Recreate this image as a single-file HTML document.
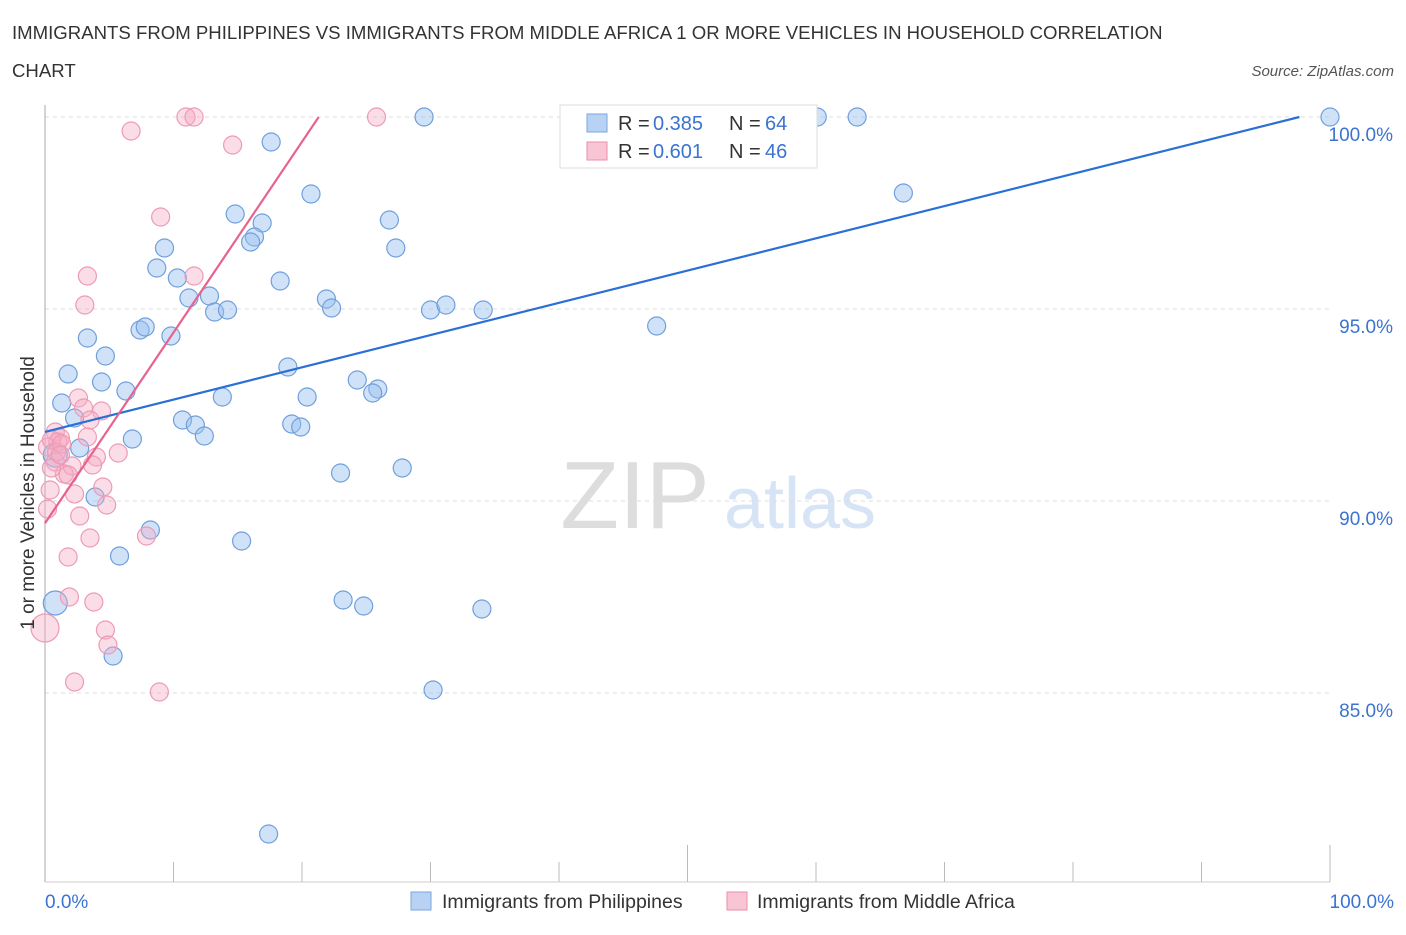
<!DOCTYPE html>
<html><head><meta charset="utf-8"><style>
body{margin:0;background:#fff;font-family:"Liberation Sans",sans-serif}
svg text{font-family:"Liberation Sans",sans-serif}
</style></head><body>
<svg width="1406" height="930" xmlns="http://www.w3.org/2000/svg">
<text x="12" y="39" font-size="18.6" fill="#333">IMMIGRANTS FROM PHILIPPINES VS IMMIGRANTS FROM MIDDLE AFRICA 1 OR MORE VEHICLES IN HOUSEHOLD CORRELATION</text>
<text x="12" y="77" font-size="18.6" fill="#333">CHART</text>
<text x="1394" y="76" font-size="15" fill="#555" font-style="italic" text-anchor="end">Source: ZipAtlas.com</text>
<text x="635" y="528" font-size="96" fill="#ddd" font-family="Liberation Serif" text-anchor="middle">ZIP</text>
<text x="800" y="528" font-size="72" fill="#d6e4f5" text-anchor="middle">atlas</text>
<g id="grid"></g>
<line x1="45" y1="105" x2="45" y2="882" stroke="#aaa"/>
<line x1="45" y1="882" x2="1330" y2="882" stroke="#ccc"/>
<g id="pts"></g>
<g id="lines"></g>
<text x="34" y="493" font-size="19" fill="#333" text-anchor="middle" transform="rotate(-90 34 493)">1 or more Vehicles in Household</text>
<text x="45" y="908" font-size="19" fill="#3b73d1">0.0%</text>
<text x="1394" y="908" font-size="19" fill="#3b73d1" text-anchor="end">100.0%</text>
<g>
<rect x="560" y="105" width="257" height="63" fill="#fff" stroke="#ddd"/>
<rect x="587" y="114" width="20" height="18" fill="#b8d2f3" stroke="#7aa6e0"/>
<rect x="587" y="142" width="20" height="18" fill="#f9c4d4" stroke="#eb8fab"/>
<text x="618" y="130" font-size="20" fill="#333">R =</text>
<text x="653" y="130" font-size="20" fill="#3b73d1">0.385</text>
<text x="729" y="130" font-size="20" fill="#333">N =</text>
<text x="765" y="130" font-size="20" fill="#3b73d1">64</text>
<text x="618" y="158" font-size="20" fill="#333">R =</text>
<text x="653" y="158" font-size="20" fill="#3b73d1">0.601</text>
<text x="729" y="158" font-size="20" fill="#333">N =</text>
<text x="765" y="158" font-size="20" fill="#3b73d1">46</text>
</g>
<g>
<rect x="411" y="892" width="20" height="18" fill="#b8d2f3" stroke="#7aa6e0"/>
<text x="442" y="908" font-size="19.5" fill="#333">Immigrants from Philippines</text></g>
<g>
<rect x="727" y="892" width="20" height="18" fill="#f9c4d4" stroke="#eb8fab"/>
<text x="757" y="908" font-size="19.5" fill="#333">Immigrants from Middle Africa</text></g>
</svg>
<script>
const yTicks=[100,95,90,85];
const yTickLabels=["100.0%","95.0%","90.0%","85.0%"];
const blueX=[29.5,60.1,63.2,100,17.6,20.7,66.8,14.8,16.9,26.8,16.3,16,9.3,27.3,8.7,10.3,18.3,11.2,12.8,21.9,13.2,14.2,22.3,30,31.2,34.1,47.6,7.4,7.8,9.8,3.3,4.7,1.8,4.4,18.9,24.3,25.9,25.5,6.3,13.8,20.4,1.3,2.3,10.7,11.7,19.2,19.9,12.4,6.8,2.7,0.8,23,27.8,3.9,8.2,15.3,5.8,23.2,24.8,34,0.8,5.3,30.2,17.4];
const blueY=[117,117,117,117,142,194,193,214,223,220,237,242,248,248,268,278,281,298,296,299,312,310,308,310,305,310,326,330,327,336,338,356,374,382,367,380,389,393,391,397,397,403,418,420,425,424,427,436,439,448,455,473,468,497,530,541,556,600,606,609,603,656,690,834].map(p=>100-(p-117)/38.4);
const blueR=[9,9,9,9,9,9,9,9,9,9,9,9,9,9,9,9,9,9,9,9,9,9,9,9,9,9,9,9,9,9,9,9,9,9,9,9,9,9,9,9,9,9,9,9,9,9,9,9,9,9,12,9,9,9,9,9,9,9,9,9,12,9,9,9];
const pinkX=[10.97,11.6,25.8,6.7,14.6,9,3.3,11.6,3.1,2.6,3,4.4,3.5,0.8,1.2,0.2,1,3.3,5.7,4,0.8,2.1,1.5,1.8,3.7,0.4,4.5,2.3,4.8,0.2,2.7,3.5,7.9,1.8,1.9,3.8,4.7,4.9,0,2.3,8.9,0.5,0.9,1.3,0.5,1.2];
const pinkY=[117,117,117,131,145,217,276,276,305,398,408,411,420,432,438,447,442,437,453,457,462,466,474,475,465,490,487,494,505,509,516,538,536,557,597,602,630,645,628,682,692,440,452,444,468,455].map(p=>100-(p-117)/38.4);
const trendBlue=[91.80,0.084];
const trendPink=[89.42,0.4967];
const NS="http://www.w3.org/2000/svg";
const xs=v=>45+v*12.85, ys=v=>117+(100-v)*38.4;
const grid=document.getElementById('grid');
yTicks.forEach((t,i)=>{
 const l=document.createElementNS(NS,'line');
 l.setAttribute('x1',45);l.setAttribute('x2',1330);l.setAttribute('y1',ys(t));l.setAttribute('y2',ys(t));
 l.setAttribute('stroke','#ddd');l.setAttribute('stroke-dasharray','4,4');
 
 
 grid.appendChild(l);
 const tx=document.createElementNS(NS,'text');
 tx.setAttribute('x',1393);tx.setAttribute('y',ys(t)+24);tx.setAttribute('text-anchor','end');
 tx.setAttribute('font-size','19');tx.setAttribute('fill','#3b73d1');tx.textContent=yTickLabels[i];
 
 
 grid.appendChild(tx);
});
for(let i=0;i<=10;i++){
 const l=document.createElementNS(NS,'line');const x=45+i*128.5;
 l.setAttribute('x1',x);l.setAttribute('x2',x);l.setAttribute('y1',882);l.setAttribute('y2',i%5==0?845:862);
 l.setAttribute('stroke','#bbb');
 
 
 grid.appendChild(l);
}
const pts=document.getElementById('pts');
function dot(x,y,r,fill,stroke,name){
 const c=document.createElementNS(NS,'circle');
 c.setAttribute('cx',xs(x));c.setAttribute('cy',ys(y));c.setAttribute('r',r);
 c.setAttribute('fill',fill);c.setAttribute('stroke',stroke);c.setAttribute('stroke-width','1.2');
 
 
 pts.appendChild(c);
}
blueX.forEach((x,i)=>dot(x,blueY[i],blueR[i],'rgba(150,190,240,0.45)','#6f9fdc','philippines-point'));
pinkX.forEach((x,i)=>dot(x,pinkY[i],i==38?14:9,'rgba(246,170,195,0.4)','#ee9ab4','middle-africa-point'));
const lines=document.getElementById('lines');
function tl(tr,x2,color,name){
 const l=document.createElementNS(NS,'line');
 l.setAttribute('x1',xs(0));l.setAttribute('y1',ys(tr[0]));l.setAttribute('x2',xs(x2));l.setAttribute('y2',ys(tr[0]+tr[1]*x2));
 l.setAttribute('stroke',color);l.setAttribute('stroke-width','2.2');
 
 
 lines.appendChild(l);
}
tl(trendBlue,(100-trendBlue[0])/trendBlue[1],'#2a6fd6','philippines-trendline');
tl(trendPink,(100-trendPink[0])/trendPink[1],'#e8628e','middle-africa-trendline');
</script>
</body></html>
